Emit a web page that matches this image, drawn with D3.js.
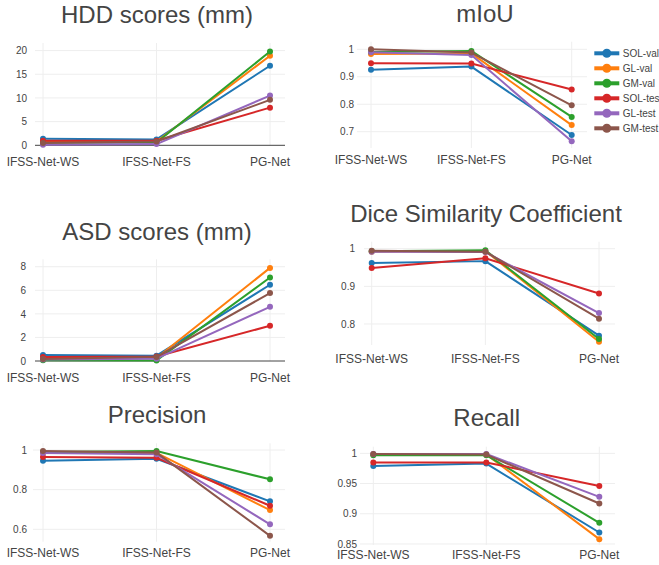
<!DOCTYPE html>
<html>
<head>
<meta charset="utf-8">
<script src="https://cdnjs.cloudflare.com/ajax/libs/d3/7.8.5/d3.min.js"></script>
<style>
	body { margin: 0; background: #fff; }
	svg { display: block; font-family: "Liberation Sans", Arial, sans-serif; }
</style>
</head>
<body>
<div id="chart"></div>
<script>
// categories and series (same for every panel)
const categories = ["IFSS-Net-WS", "IFSS-Net-FS", "PG-Net"]
const seriesNames = ["SOL-val", "GL-val", "GM-val", "SOL-test", "GL-test", "GM-test"]

// values per series, in seriesNames order
const hddValues = [
	[1.37, 1.25, 16.8],
	[0.68, 0.8, 18.9],
	[0.55, 0.6, 19.8],
	[0.95, 0.95, 7.95],
	[0.1, 0.25, 10.5],
	[0.47, 0.8, 9.6]
]
const miouValues = [
	[0.926, 0.937, 0.688],
	[0.983, 0.985, 0.724],
	[0.99, 0.994, 0.754],
	[0.949, 0.948, 0.854],
	[0.989, 0.979, 0.665],
	[1.0, 0.988, 0.796]
]
const asdValues = [
	[0.5, 0.45, 6.47],
	[0.25, 0.25, 7.9],
	[0.06, 0.05, 7.09],
	[0.34, 0.38, 2.99],
	[0.12, 0.2, 4.6],
	[0.17, 0.35, 5.76]
]
const diceValues = [
	[0.962, 0.967, 0.769],
	[0.992, 0.994, 0.753],
	[0.993, 0.996, 0.76],
	[0.949, 0.9745, 0.881],
	[0.992, 0.991, 0.829],
	[0.9947, 0.992, 0.814]
]
const precisionValues = [
	[0.946, 0.956, 0.741],
	[0.988, 0.985, 0.697],
	[0.99, 0.995, 0.852],
	[0.965, 0.961, 0.719],
	[0.985, 0.978, 0.625],
	[0.995, 0.987, 0.567]
]
const recallValues = [
	[0.979, 0.983, 0.869],
	[0.998, 0.998, 0.858],
	[0.997, 0.997, 0.885],
	[0.985, 0.985, 0.946],
	[0.999, 0.999, 0.928],
	[0.999, 0.998, 0.917]
]

// tick labels
const hddTicks = [0, 5, 10, 15, 20]
const miouTicks = [0.7, 0.8, 0.9, 1]
const asdTicks = [0, 2, 4, 6, 8]
const diceTicks = [0.8, 0.9, 1]
const precisionTicks = [0.6, 0.8, 1]
const recallTicks = [0.85, 0.9, 0.95, 1]

const colors = ["#1f77b4", "#ff7f0e", "#2ca02c", "#d62728", "#9467bd", "#8c564b"]

// panel layouts (pixel boxes of each small figure)
const panels = [
	{ title: "HDD scores (mm)", values: hddValues, ticks: hddTicks, domain: [0, 21.6], zero: true,
	  left: 35, right: 285, top: 43, bottom: 145.3, x0: 43, x2: 270, labelX: 27, titleX: 157, titleY: 23, xLabelY: 166 },
	{ title: "mIoU", values: miouValues, ticks: miouTicks, domain: [0.6407, 1.0277], legend: true,
	  left: 357, right: 587, top: 41.7, bottom: 148, x0: 371, x2: 571.7, labelX: 354, titleX: 485, titleY: 22, xLabelY: 163.5 },
	{ title: "ASD scores (mm)", values: asdValues, ticks: asdTicks, domain: [0, 8.63], zero: true,
	  left: 35, right: 285, top: 259.3, bottom: 361, x0: 43, x2: 270, labelX: 26, titleX: 157, titleY: 240, xLabelY: 382 },
	{ title: "Dice Similarity Coefficient", values: diceValues, ticks: diceTicks, domain: [0.7442, 1.0186],
	  left: 364, right: 615, top: 241.7, bottom: 345, x0: 371.7, x2: 599, labelX: 355, titleX: 486, titleY: 222, xLabelY: 362.5 },
	{ title: "Precision", values: precisionValues, ticks: precisionTicks, domain: [0.5375, 1.0338],
	  left: 33, right: 285, top: 443.3, bottom: 541.7, x0: 43, x2: 270, labelX: 27, titleX: 157, titleY: 422.7, xLabelY: 557.3 },
	{ title: "Recall", values: recallValues, ticks: recallTicks, domain: [0.8483, 1.011],
	  left: 360, right: 615, top: 446.7, bottom: 545, x0: 373.3, x2: 599.3, labelX: 357, titleX: 486.7, titleY: 426, xLabelY: 559.3 }
]

const width = 659
const height = 565

const svg = d3.select("#chart")
	.append("svg")
		.attr("width", width)
		.attr("height", height)

function drawPanel(p) {
	const g = svg.append("g")

	const x = d3.scalePoint()
		.domain(categories)
		.range([p.x0, p.x2])

	const y = d3.scaleLinear()
		.domain(p.domain)
		.range([p.bottom, p.top])

	// title
	g.append("text")
		.attr("x", p.titleX)
		.attr("y", p.titleY)
		.attr("text-anchor", "middle")
		.attr("font-size", 24)
		.attr("fill", "#444")
		.text(p.title)

	// horizontal grid
	g.append("g")
		.selectAll("line")
		.data(p.ticks.filter(t => !(p.zero && t == 0)))
		.join("line")
		.attr("x1", p.left)
		.attr("x2", p.right)
		.attr("y1", d => y(d))
		.attr("y2", d => y(d))
		.attr("stroke", "#eee")
		.attr("stroke-width", 1)

	// vertical grid
	g.append("g")
		.selectAll("line")
		.data(categories)
		.join("line")
		.attr("x1", d => x(d))
		.attr("x2", d => x(d))
		.attr("y1", p.top)
		.attr("y2", p.bottom)
		.attr("stroke", "#eee")
		.attr("stroke-width", 1)

	if (p.zero) {
		g.append("line")
			.attr("x1", p.left)
			.attr("x2", p.right)
			.attr("y1", y(0))
			.attr("y2", y(0))
			.attr("stroke", "#444")
			.attr("stroke-width", 1)
	}

	// y tick labels
	const yAxis = d3.axisLeft(y)
		.tickValues(p.ticks)
		.tickFormat(d3.format("~g"))
		.tickSize(0)
		.tickPadding(0)
	g.append("g")
		.attr("transform", `translate(${p.labelX},0)`)
		.call(yAxis)
		.call(a => a.select(".domain").remove())
		.call(a => a.selectAll("text")
			.attr("font-family", null)
			.attr("font-size", 10)
			.attr("fill", "#444"))

	// x tick labels
	g.append("g")
		.selectAll("text")
		.data(categories)
		.join("text")
		.attr("x", d => x(d))
		.attr("y", p.xLabelY)
		.attr("text-anchor", "middle")
		.attr("font-size", 12)
		.attr("fill", "#444")
		.text(d => d)

	const line = d3.line()
		.x((d, i) => x(categories[i]))
		.y(d => y(d))

	// one group per trace: line first then its markers
	p.values.forEach(function (vals, s) {
		const tg = g.append("g")
		tg.append("path")
			.attr("d", line(vals))
			.attr("fill", "none")
			.attr("stroke", colors[s])
			.attr("stroke-width", 2)
			.attr("stroke-linejoin", "round")
		tg.selectAll("circle")
			.data(vals)
			.join("circle")
			.attr("cx", (d, i) => x(categories[i]))
			.attr("cy", d => y(d))
			.attr("r", 3)
			.attr("fill", colors[s])
	})

	if (p.legend) {
		const lg = svg.append("g")
			.attr("transform", "translate(594.3,53.3)")
		const row = lg.selectAll("g")
			.data(seriesNames)
			.join("g")
			.attr("transform", (d, i) => `translate(0,${i * 15})`)
		row.append("line")
			.attr("x1", 0)
			.attr("x2", 25)
			.attr("stroke", (d, i) => colors[i])
			.attr("stroke-width", 4)
		row.append("circle")
			.attr("cx", 12.5)
			.attr("r", 4.5)
			.attr("fill", (d, i) => colors[i])
		row.append("text")
			.attr("x", 28.5)
			.attr("dy", "0.35em")
			.attr("font-size", 10)
			.attr("fill", "#444")
			.text(d => d)
	}
}

panels.forEach(drawPanel)
</script>
</body>
</html>
